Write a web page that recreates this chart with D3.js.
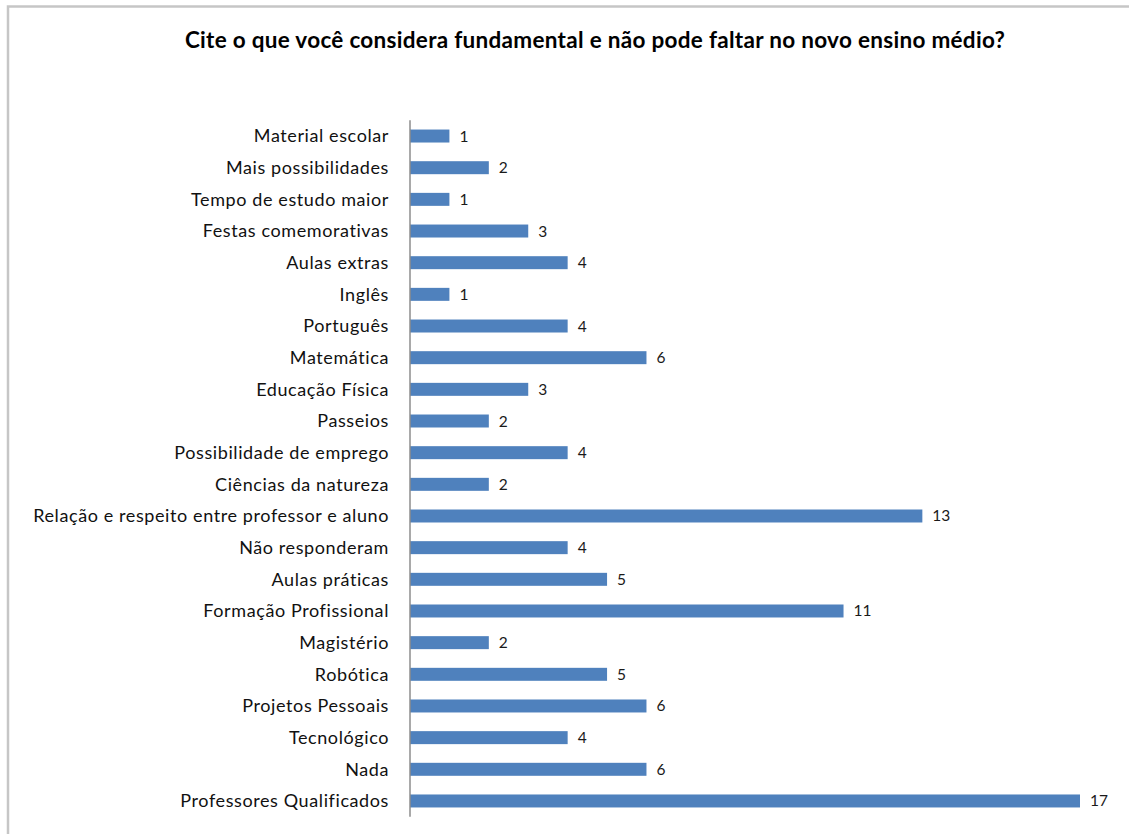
<!DOCTYPE html>
<html>
<head>
<meta charset="utf-8">
<script src="https://cdn.jsdelivr.net/npm/d3@7"></script>
<style>
  html, body { margin: 0; padding: 0; background: #fff; }
  svg { display: block; }
</style>
</head>
<body>
<svg id="chart" width="1129" height="834"></svg>
<script>
// Responses, listed top to bottom
const categories = [
  "Material escolar",
  "Mais possibilidades",
  "Tempo de estudo maior",
  "Festas comemorativas",
  "Aulas extras",
  "Inglês",
  "Português",
  "Matemática",
  "Educação Física",
  "Passeios",
  "Possibilidade de emprego",
  "Ciências da natureza",
  "Relação e respeito entre professor e aluno",
  "Não responderam",
  "Aulas práticas",
  "Formação Profissional",
  "Magistério",
  "Robótica",
  "Projetos Pessoais",
  "Tecnológico",
  "Nada",
  "Professores Qualificados"
];
const counts = [1, 2, 1, 3, 4, 1, 4, 6, 3, 2, 4, 2, 13, 4, 5, 11, 2, 5, 6, 4, 6, 17];
const title = "Cite o que você considera fundamental e não pode faltar no novo ensino médio?";

const data = categories.map((c, i) => ({ label: c, value: counts[i] }));

const svg = d3.select("#chart");
const fontFamily = "Lato, 'Open Sans', 'DejaVu Sans', sans-serif";

// Chart frame
svg.append("rect")
  .attr("x", 8).attr("y", 6.5)
  .attr("width", 1140).attr("height", 860)
  .attr("fill", "none")
  .attr("stroke", "#c6c6c6")
  .attr("stroke-width", 2.5);

// Title
svg.append("text")
  .attr("x", 595).attr("y", 48)
  .attr("text-anchor", "middle")
  .attr("font-family", fontFamily)
  .attr("font-weight", "bold")
  .attr("font-size", 22.5)
  .attr("letter-spacing", 0.3)
  .attr("fill", "#000")
  .text(title);

const x0 = 410;
const x = d3.scaleLinear().domain([0, 17]).range([x0, 1080]);
const y = d3.scaleBand()
  .domain(categories)
  .range([120.2, 816.8])
  .paddingInner(0.59)
  .paddingOuter(0.295);

// Bars
svg.append("g").selectAll("rect")
  .data(data)
  .join("rect")
  .attr("x", x(0))
  .attr("y", d => y(d.label))
  .attr("width", d => x(d.value) - x(0))
  .attr("height", y.bandwidth())
  .attr("fill", "#4f81bd");

// Value labels
svg.append("g").selectAll("text")
  .data(data)
  .join("text")
  .attr("x", d => x(d.value) + 10)
  .attr("y", d => y(d.label) + y.bandwidth() / 2 + 5.5)
  .attr("font-family", fontFamily)
  .attr("font-size", 15.5)
  .attr("fill", "#1a1a1a")
  .text(d => d.value);

// Category axis (no ticks)
const yAxis = d3.axisLeft(y).tickSize(0).tickPadding(21);
const gAxis = svg.append("g")
  .attr("transform", `translate(${x0},0)`)
  .call(yAxis);
gAxis.select(".domain")
  .attr("stroke", "#8c8c8c")
  .attr("stroke-width", 1.5)
  .attr("d", `M0,${y.range()[0]}V${y.range()[1]}`);
gAxis.selectAll(".tick text")
  .attr("font-family", fontFamily)
  .attr("font-size", 18)
  .attr("letter-spacing", 0.6)
  .attr("fill", "#111")
  .attr("dy", "0.35em");
</script>
</body>
</html>
